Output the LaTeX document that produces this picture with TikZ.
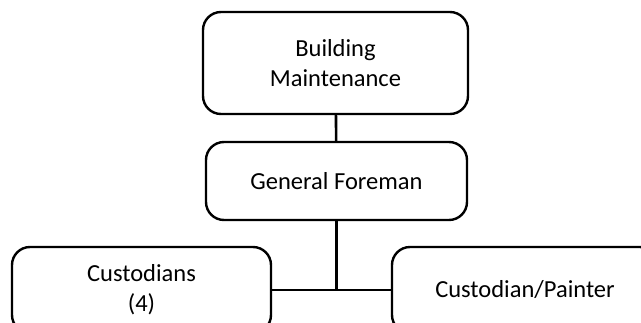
\documentclass[tikz,border=0pt]{standalone}
\usepackage{fontspec}
\setmainfont{Carlito}

\begin{document}
\begin{tikzpicture}[x=1pt,y=-1pt,
    unitbox/.style={draw, line width=2.4pt, rounded corners=18pt, align=center,
      inner sep=0pt, font=\fontsize{24.5}{30}\selectfont},
    link/.style={line width=2.6pt}]
            % pevny ramecek obrazku
            \useasboundingbox (0,0) rectangle (641,322);
            \clip (0,0) rectangle (641,322);

            % --- HORNI UROVEN ---
            \node[unitbox, minimum width=265pt, minimum height=102pt] (bm) at (335.5,63) {Building\\Maintenance};
            \node[unitbox, minimum width=261pt, minimum height=78pt] (gf) at (336.5,181) {General Foreman};

            % --- SPODNI UROVEN (spodek oriznut) ---
            \node[unitbox, minimum width=259pt, minimum height=86pt] (cust) at (141.5,290) {Custodians\\(4)};
            \node[unitbox, minimum width=266pt, minimum height=86pt] (paint) at (525,290) {Custodian/Painter};

            % --- SPOJNICE ---
            \coordinate (fork) at (gf.south |- cust.east);
            \draw[link] (bm) -- (gf);
            \draw[link] (gf) -- (fork);
            \draw[link] (cust) -- (paint);

        \end{tikzpicture}
\end{document}
